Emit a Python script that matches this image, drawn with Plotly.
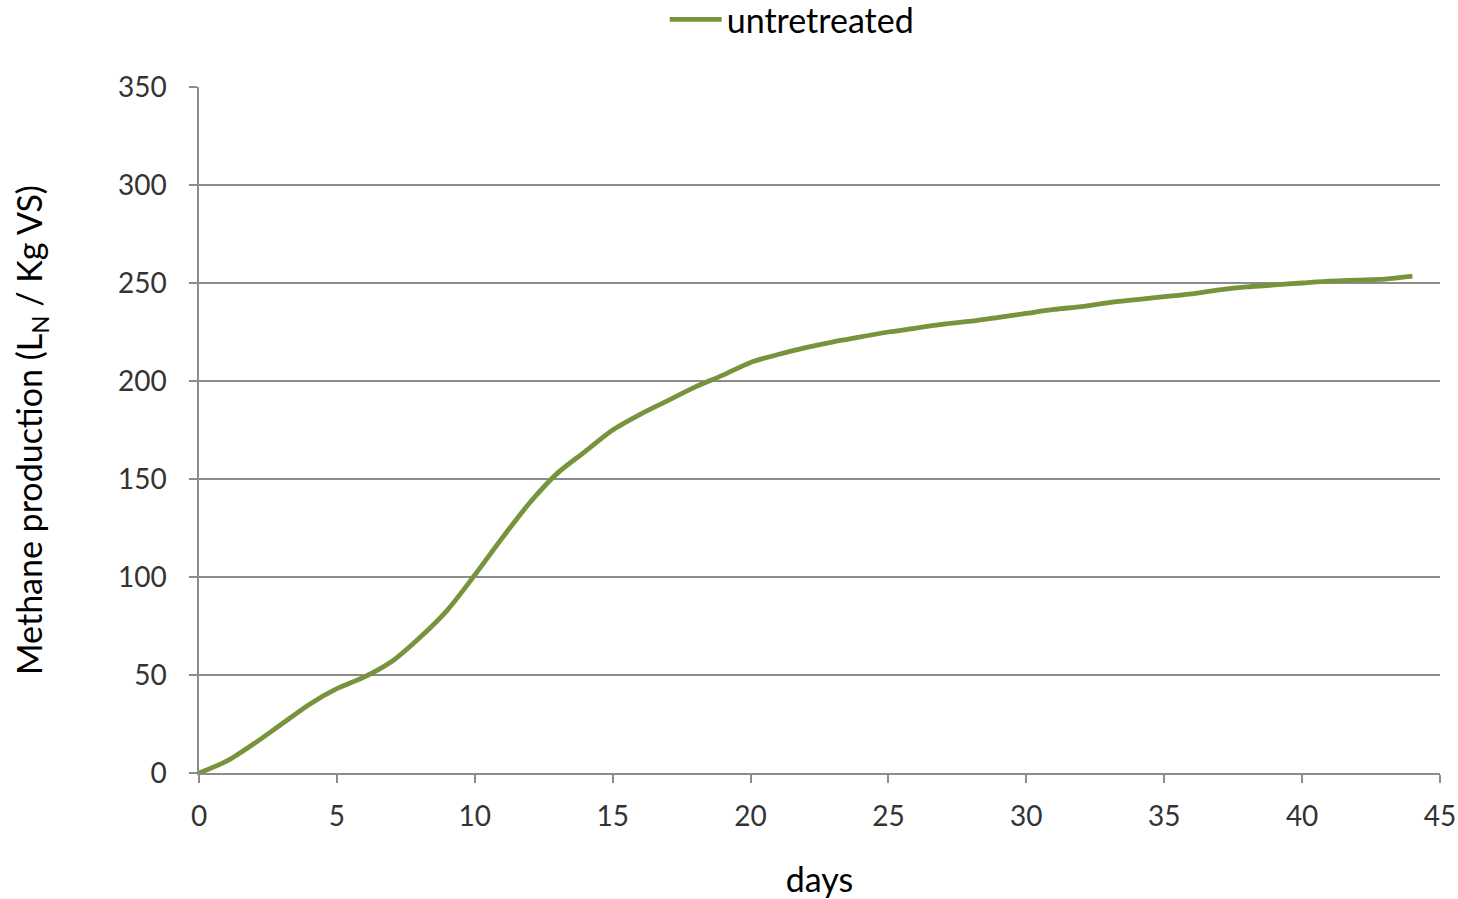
import plotly.graph_objects as go

days = [0, 1, 2, 3, 4, 5, 6, 7, 8, 9, 10, 11, 12, 13, 14, 15, 16, 17, 18, 19, 20, 21, 22,
        23, 24, 25, 26, 27, 28, 29, 30, 31, 32, 33, 34, 35, 36, 37, 38, 39, 40, 41, 42, 43, 44]
methane = [0, 6, 15, 25, 35, 43, 49, 57, 69, 83, 101, 120, 138, 153, 164, 175, 183, 190, 197,
           203, 209.5, 213.5, 217, 220, 222.5, 225, 227, 229, 230.5, 232.5, 234.5, 236.5, 238, 240,
           241.5, 243, 244.5, 246.5, 248, 249, 250, 251, 251.5, 252, 253.5]
series_name = "untretreated"
x_ticks = [0, 5, 10, 15, 20, 25, 30, 35, 40, 45]
y_ticks = [0, 50, 100, 150, 200, 250, 300, 350]

FONT = "Lato"
GRID = "#8c8c8c"

fig = go.Figure()
fig.add_trace(go.Scatter(
    x=days, y=methane, mode="lines", name=series_name,
    line=dict(color="#77933C", width=4.8, shape="spline", smoothing=0.8),
    cliponaxis=False,
))

fig.update_layout(
    width=1458, height=899,
    paper_bgcolor="white", plot_bgcolor="white",
    margin=dict(l=199, r=18, t=87, b=126, autoexpand=False),
    font=dict(family=FONT, color="#000000"),
    showlegend=True,
    legend=dict(orientation="h", xref="container", x=0.543, xanchor="center",
                yref="container", y=0.978, yanchor="middle",
                font=dict(size=34, family=FONT, color="#000"), itemwidth=52),
    xaxis=dict(
        range=[0, 45], tickvals=x_ticks, ticktext=[str(v) for v in x_ticks],
        showgrid=False, zeroline=False, automargin=False,
        showline=True, linecolor=GRID, linewidth=1.5,
        ticks="outside", ticklen=8, tickcolor=GRID, tickwidth=1.5,
        ticklabelstandoff=10,
        tickfont=dict(size=28, family=FONT, color="#333"),
        title=dict(text="days", font=dict(size=34, family=FONT, color="#000"), standoff=40),
    ),
    yaxis=dict(
        range=[0, 350], tickvals=y_ticks, ticktext=[str(v) for v in y_ticks],
        showgrid=True, gridcolor=GRID, gridwidth=1.5, zeroline=False, automargin=False,
        showline=True, linecolor=GRID, linewidth=1.5,
        ticks="outside", ticklen=8, tickcolor=GRID, tickwidth=1.5,
        ticklabelstandoff=17,
        tickfont=dict(size=28, family=FONT, color="#333"),
        title=dict(text="Methane production (L<sub>N</sub> / Kg VS)",
                   font=dict(size=34, family=FONT, color="#000"), standoff=65),
    ),
)

fig.write_html("out.html", config={"displayModeBar": False},
               post_script="document.body.style.margin='0';")
